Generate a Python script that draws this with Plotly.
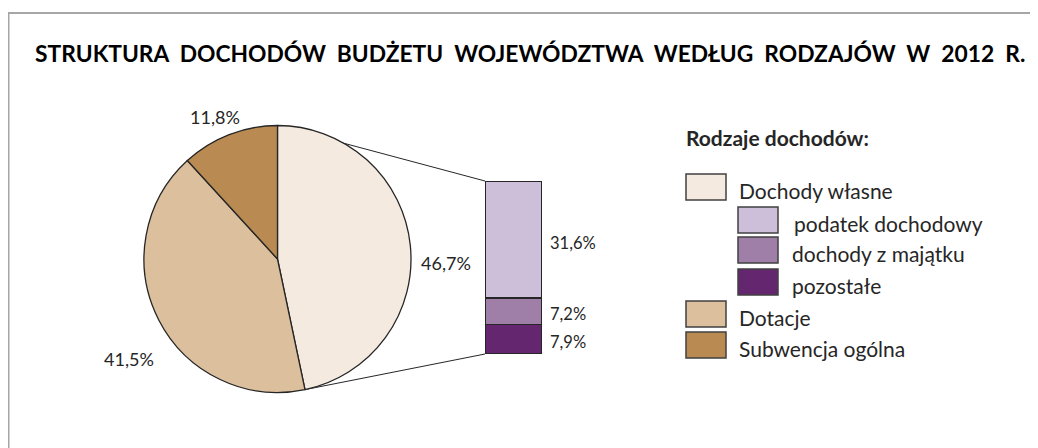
import math
import plotly.graph_objects as go

W, H = 1038, 448

# ---- data ----
title_text = "STRUKTURA DOCHODÓW BUDŻETU WOJEWÓDZTWA WEDŁUG RODZAJÓW W 2012 R."
legend_title = "Rodzaje dochodów:"
pie_labels = ["Dochody własne", "Dotacje", "Subwencja ogólna"]
pie_values = [46.7, 41.5, 11.8]
pie_colors = ["#F4EAE0", "#DCBF9C", "#B98B52"]
bar_labels = ["podatek dochodowy", "dochody z majątku", "pozostałe"]
bar_values = [31.6, 7.2, 7.9]
bar_colors = ["#CDBFD9", "#9F7EA7", "#64266E"]

FONT = "Lato"
TXT = "#262626"
EDGE = "#262626"
OFF = 8  # page body margin offset
FW, FH = W, H


def fmt(v):
    return f"{v:.1f}".replace(".", ",") + "%"


def px(x):
    return (x - OFF) / FW


def py(y):
    return 1 - (y - OFF) / FH


# pie geometry (screen pixels)
PIE_L, PIE_R, PIE_T, PIE_B = 144, 411, 125, 393
# bar geometry (screen pixels)
BAR_L, BAR_R, BAR_T, BAR_B = 485, 542, 181, 354

fig = go.Figure()

fig.add_trace(go.Pie(
    labels=pie_labels, values=pie_values, sort=False, direction="clockwise",
    rotation=0, marker=dict(colors=pie_colors, line=dict(color=EDGE, width=1.3)),
    textinfo="none", hoverinfo="label+percent", showlegend=False,
    domain=dict(x=[px(PIE_L), px(PIE_R)], y=[py(PIE_B), py(PIE_T)]),
))

# stacked bar (bottom to top)
for lab, val, col in reversed(list(zip(bar_labels, bar_values, bar_colors))):
    fig.add_trace(go.Bar(
        x=[0], y=[val], name=lab, width=1, showlegend=False,
        marker=dict(color=col, line=dict(color=EDGE, width=1.2)),
        xaxis="x", yaxis="y",
    ))

fig.update_layout(
    barmode="stack",
    width=FW, height=FH,
    margin=dict(l=0, r=0, t=0, b=0),
    paper_bgcolor="white", plot_bgcolor="rgba(0,0,0,0)",
    xaxis=dict(domain=[px(BAR_L), px(BAR_R)], range=[-0.5, 0.5], visible=False, fixedrange=True),
    yaxis=dict(domain=[py(BAR_B), py(BAR_T)], range=[0, sum(bar_values)], visible=False, fixedrange=True),
    font=dict(family=FONT, color=TXT),
)

shapes = []
# frame (top and left edges; the rest lies outside the window)
FRAME = dict(color="#A6A6A6", width=2)
shapes.append(dict(type="line", xref="paper", yref="paper",
                   x0=px(7.5), x1=1.0, y0=py(13), y1=py(13), line=FRAME))
shapes.append(dict(type="line", xref="paper", yref="paper",
                   x0=px(8.5), x1=px(8.5), y0=py(12), y1=0.0, line=FRAME))

# connector lines: pie top / end of first slice -> bar corners
cx, cy = (PIE_L + PIE_R) / 2, (PIE_T + PIE_B) / 2
r = (PIE_R - PIE_L) / 2
ang = 2 * math.pi * pie_values[0] / sum(pie_values)
p_top = (cx, cy - r)
p_end = (cx + r * math.sin(ang), cy - r * math.cos(ang))
for (x0, y0), (x1, y1) in [(p_top, (BAR_L, BAR_T)), (p_end, (BAR_L, BAR_B))]:
    shapes.append(dict(type="line", xref="paper", yref="paper", layer="below",
                       x0=px(x0), y0=py(y0), x1=px(x1), y1=py(y1),
                       line=dict(color=EDGE, width=1)))

annotations = []
annotations.append(dict(text="<b>" + title_text.replace(" ", "\u00a0\u00a0") + "</b>",
                        xref="paper", yref="paper", x=px(530), y=py(53),
                        xanchor="center", yanchor="middle", showarrow=False,
                        font=dict(size=22.8, color="#000000", family=FONT)))

# pie labels
pie_label_pos = [(446, 263), (129, 359), (215, 117)]
for v, (lx, ly) in zip(pie_values, pie_label_pos):
    annotations.append(dict(text=fmt(v), xref="paper", yref="paper", x=px(lx), y=py(ly),
                            xanchor="center", yanchor="middle", showarrow=False,
                            font=dict(size=18, color=TXT)))

# bar labels
cum = 0
mids = {}
for lab, val in reversed(list(zip(bar_labels, bar_values))):
    mids[lab] = cum + val / 2
    cum += val
for lab, val in zip(bar_labels, bar_values):
    annotations.append(dict(text=fmt(val), xref="x", yref="y", x=0.5, y=mids[lab],
                            xanchor="left", yanchor="middle", xshift=6, yshift=-3,
                            showarrow=False, font=dict(size=16.5, color=TXT)))

# legend
annotations.append(dict(text="<b>" + legend_title + "</b>", xref="paper", yref="paper",
                        x=px(684), y=py(137), xanchor="left", yanchor="middle",
                        showarrow=False, font=dict(size=21, color=TXT)))
legend_items = [
    (pie_labels[0], pie_colors[0], 686, 174, 737),
    (bar_labels[0], bar_colors[0], 738, 207, 792),
    (bar_labels[1], bar_colors[1], 738, 237, 790),
    (bar_labels[2], bar_colors[2], 738, 269, 790),
    (pie_labels[1], pie_colors[1], 686, 301, 737),
    (pie_labels[2], pie_colors[2], 686, 332, 737),
]
BOX_W, BOX_H = 40, 26
for lab, col, bx, by, tx in legend_items:
    shapes.append(dict(type="rect", xref="paper", yref="paper",
                       x0=px(bx), x1=px(bx + BOX_W), y0=py(by + BOX_H), y1=py(by),
                       line=dict(color="#404040", width=1.5), fillcolor=col))
    annotations.append(dict(text=lab, xref="paper", yref="paper",
                            x=px(tx), y=py(by + BOX_H / 2 + 3), xanchor="left", yanchor="middle",
                            showarrow=False, font=dict(size=21, color=TXT)))

fig.update_layout(shapes=shapes, annotations=annotations)
fig.write_html("out.html", config={"displayModeBar": False},
               post_script="document.documentElement.style.overflow='hidden';"
                           "document.body.style.overflow='hidden';")
